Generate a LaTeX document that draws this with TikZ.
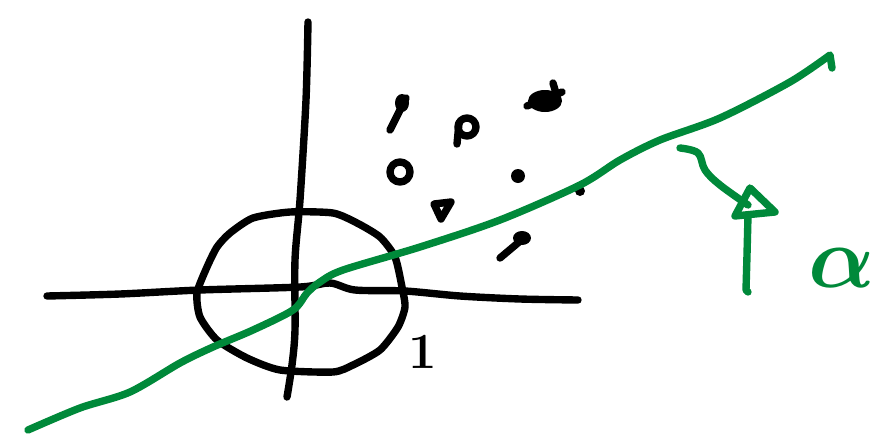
\documentclass[tikz,border=0pt]{standalone}
\usepackage{amsmath,amssymb}
\usepackage{xcolor}
\usepackage{tikz}
\usetikzlibrary{calc, positioning, arrows.meta}

\definecolor{penGreen}{RGB}{0,137,58}

\tikzset{
    pen/.style={line width=2.1pt, line cap=round, line join=round},
    greenpen/.style={pen, draw=penGreen},
}

\begin{document}
\begin{tikzpicture}[x=0.01cm, y=-0.01cm]
    \useasboundingbox (0,0) rectangle (896,448);

    % axes
    \coordinate (Xl) at (47,296);
    \coordinate (Xr) at (578,300);
    \coordinate (Yt) at (308,22);
    \coordinate (Yb) at (287,397);

    \draw[pen] plot[smooth, tension=0.5] coordinates {(Xl) (120,294) (200,290) (300,287) (330,283) (355,290) (405,291) (460,296) (520,299) (Xr)};
    \draw[pen] plot[smooth, tension=0.5] coordinates {(Yt) (306,100) (300,200) (295,260) (295,330) (292,365) (Yb)};

    % circle
    \draw[pen] plot[smooth cycle, tension=0.4] coordinates {
        (253,218) (290,212) (333,213) (357,223) (380,237) (395,257) (402,287)
        (405,307) (398,327) (380,350) (353,365) (333,372) (280,370) (247,358)
        (217,340) (200,317) (197,293) (207,267) (217,247) (230,233)};

    % label of the radius
    \node[font=\fontsize{14}{14}\selectfont] (one) at (423,352) {$\mathbf{1}$};

    % data points
    \draw[pen] (390,130) -- (406,98);
    \fill (402,103) ellipse (7 and 9);
    \draw[pen] (467,127) circle (9);
    \draw[pen] (457,144) -- (459,123);
    \fill (545,101) ellipse (17 and 11);
    \draw[pen] (527,106) -- (562,92);
    \draw[pen] (553,83) -- (558,100);
    \draw[pen] (400,172) circle (10);
    \fill (518,176) circle (7);
    \draw[pen] (434,204) -- (451,202) -- (441,219) -- cycle;
    \fill (580,191) circle (5);
    \draw[pen] (500,258) -- (525,237);
    \fill (522,238) ellipse (9 and 7);

    % separating line
    \coordinate (Ls) at (28,430);
    \coordinate (Le) at (830,55);
    \draw[greenpen] plot[smooth, tension=0.5] coordinates {(Ls) (80,408) (130,392) (180,363) (213,347)
        (253,330) (293,310) (307,293) (320,282) (343,270) (420,247) (500,220) (580,185)
        (620,160) (660,140) (720,118) (790,82) (Le)} -- (832,68);

    % arrow
    \coordinate (At) at (680,148);
    \coordinate (Ab) at (748,292);
    \draw[greenpen] plot[smooth, tension=0.6] coordinates {(At) (698,153) (705,170) (720,185) (748,205)};
    \draw[greenpen] (750,188) -- (775,212) -- (735,216) -- cycle;
    \draw[greenpen] plot[smooth, tension=0.5] coordinates {(748,216) (747,255) (746,290)} -- (Ab);

    % learning rate
    \node[text=penGreen, font=\fontsize{30}{30}\selectfont] (alpha) at (842,268) {$\boldsymbol{\alpha}$};
\end{tikzpicture}
\end{document}
